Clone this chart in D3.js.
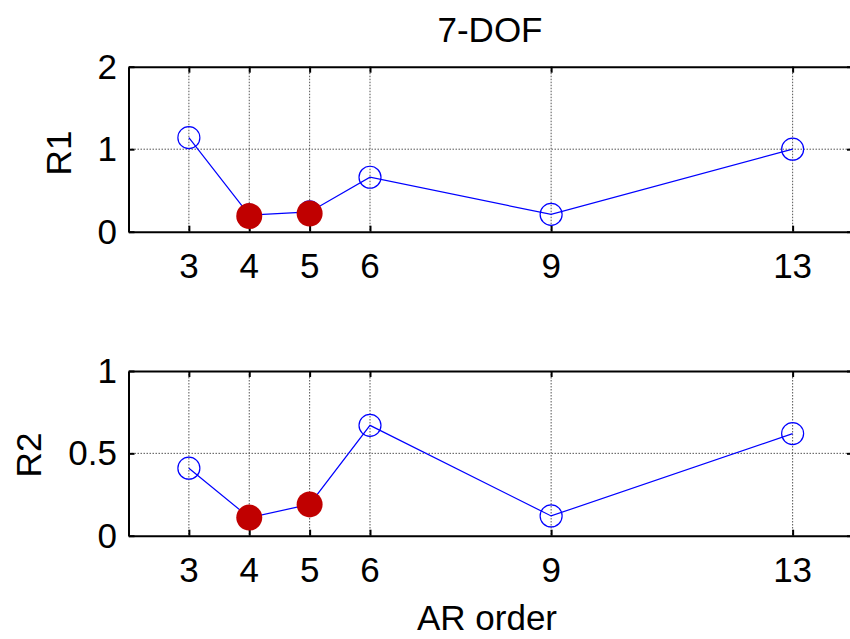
<!DOCTYPE html>
<html>
<head>
<meta charset="utf-8">
<script src="https://cdn.jsdelivr.net/npm/d3@7"></script>
<style>
  body { margin: 0; background: #fff; }
  svg { display: block; }
  text { font-family: Arial, "Liberation Sans", sans-serif; fill: #000; }
</style>
</head>
<body>
<div id="chart"></div>
<script>
// AR orders on the x axis
var arOrder = [3, 4, 5, 6, 9, 13];
var xTicks = [3, 4, 5, 6, 9, 13];

// R1 values (blue open circles) and the two highlighted ones (red)
var r1 = [1.14, 0.2, 0.24, 0.66, 0.21, 1.0];
var r1RedOrder = [4, 5];
var r1Red = [0.19, 0.22];

// R2 values
var r2 = [0.41, 0.11, 0.19, 0.67, 0.12, 0.62];
var r2RedOrder = [4, 5];
var r2Red = [0.11, 0.19];

var r1Ticks = [0, 1, 2];
var r2Ticks = [0, 0.5, 1];

var W = 850, H = 639;
var svg = d3.select("#chart").append("svg")
  .attr("width", W).attr("height", H);

var x = d3.scaleLinear().domain([2, 14]).range([128.5, 853]);

function panel(top, bottom, yMax, yTicks, vals, redX, redVals, label, labelY) {
  var y = d3.scaleLinear().domain([0, yMax]).range([bottom, top]);
  var g = svg.append("g");

  // dotted grid
  g.selectAll(".vg").data(xTicks).enter().append("line")
    .attr("x1", function(d) { return x(d); }).attr("x2", function(d) { return x(d); })
    .attr("y1", top).attr("y2", bottom)
    .attr("stroke", "#555").attr("stroke-width", 1).attr("stroke-dasharray", "1.5,1.5");
  g.selectAll(".hg").data(yTicks.slice(1, -1)).enter().append("line")
    .attr("x1", x(2)).attr("x2", W)
    .attr("y1", function(d) { return y(d); }).attr("y2", function(d) { return y(d); })
    .attr("stroke", "#555").attr("stroke-width", 1).attr("stroke-dasharray", "1.5,1.5");

  // inner ticks, bottom and top
  var xb = d3.axisBottom(x).tickValues(xTicks).tickSizeInner(-6).tickSizeOuter(0).tickFormat("");
  var xt = d3.axisTop(x).tickValues(xTicks).tickSizeInner(-6).tickSizeOuter(0).tickFormat("");
  g.append("g").attr("transform", "translate(0," + bottom + ")").call(xb);
  g.append("g").attr("transform", "translate(0," + top + ")").call(xt);
  var yl = d3.axisLeft(y).tickValues(yTicks).tickSizeInner(-6).tickSizeOuter(0).tickFormat("");
  g.append("g").attr("transform", "translate(" + x(2) + ",0)").call(yl);
  var yr = d3.axisRight(y).tickValues(yTicks).tickSizeInner(-6).tickSizeOuter(0).tickFormat("");
  g.append("g").attr("transform", "translate(" + x(14) + ",0)").call(yr);
  g.selectAll(".tick line").attr("stroke", "#000").attr("stroke-width", 2);
  g.selectAll(".domain").attr("stroke", "#000").attr("stroke-width", 2);

  // tick labels
  g.selectAll(".xl").data(xTicks).enter().append("text")
    .attr("x", function(d) { return x(d); }).attr("y", bottom + 46)
    .attr("text-anchor", "middle").attr("font-size", 35)
    .text(function(d) { return d; });
  g.selectAll(".yl").data(yTicks).enter().append("text")
    .attr("x", 117).attr("y", function(d) { return y(d) + 12; })
    .attr("text-anchor", "end").attr("font-size", 35)
    .text(function(d) { return d; });

  // axis name
  g.append("text")
    .attr("transform", "translate(" + labelY[0] + "," + labelY[1] + ") rotate(-90)")
    .attr("text-anchor", "middle").attr("font-size", 35)
    .text(label);

  // line and open circles
  var line = d3.line().x(function(d, i) { return x(arOrder[i]); }).y(function(d) { return y(d); });
  g.append("path").datum(vals).attr("d", line)
    .attr("fill", "none").attr("stroke", "#0000ff").attr("stroke-width", 1.2);
  g.selectAll(".oc").data(vals).enter().append("circle")
    .attr("cx", function(d, i) { return x(arOrder[i]); })
    .attr("cy", function(d) { return y(d); })
    .attr("r", 11).attr("fill", "none").attr("stroke", "#0000ff").attr("stroke-width", 1.2);

  // red filled markers
  g.selectAll(".rc").data(redVals).enter().append("circle")
    .attr("cx", function(d, i) { return x(redX[i]); })
    .attr("cy", function(d) { return y(d); })
    .attr("r", 13).attr("fill", "#c00000");
}

panel(66.7, 231.7, 2, r1Ticks, r1, r1RedOrder, r1Red, "R1", [71, 153]);
panel(371, 535.7, 1, r2Ticks, r2, r2RedOrder, r2Red, "R2", [41, 455]);

svg.append("text").attr("x", 490).attr("y", 42)
  .attr("text-anchor", "middle").attr("font-size", 35).text("7-DOF");
svg.append("text").attr("x", 487).attr("y", 630)
  .attr("text-anchor", "middle").attr("font-size", 35).text("AR order");
</script>
</body>
</html>
